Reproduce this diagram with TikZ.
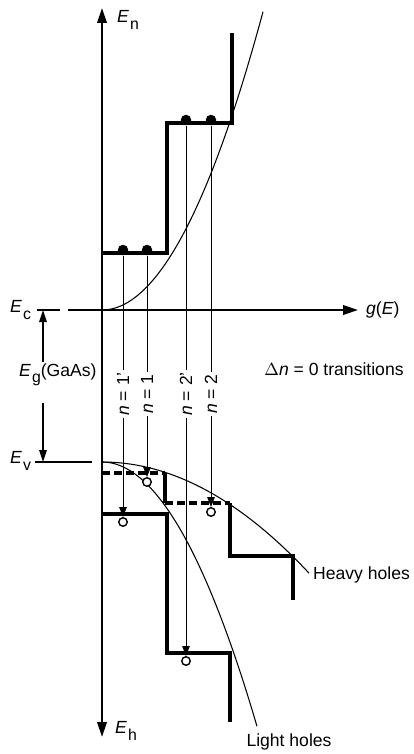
\documentclass[tikz,border=0pt]{standalone}
\usepackage{fontspec}
\setmainfont{Liberation Sans}
\usetikzlibrary{arrows.meta}
\newcommand{\ener}[1]{\textit{E}\kern.6pt\raisebox{-.7ex}{\small #1}}

\begin{document}
\begin{tikzpicture}[x=0.02cm,y=-0.02cm,font=\fontsize{10}{12}\selectfont,
 axis/.style={line width=1.3pt,-{Triangle[length=3mm,width=1.9mm]}},
 gap/.style={line width=.7pt,-{Triangle[length=2.4mm,width=1.5mm]}},
 tick/.style={line width=.7pt},
 lev/.style={line width=2pt},
 hhlev/.style={lev,dash pattern=on 1.6mm off .8mm},
 trans/.style={line width=.55pt,-{Triangle[length=2mm,width=1.5mm]}},
 dos/.style={line width=.6pt},
 elec/.style={circle,fill,inner sep=0pt,minimum size=2.1mm},
 hole/.style={circle,draw,fill=white,line width=.8pt,inner sep=0pt,minimum size=1.7mm},
 lab/.style={fill=white,inner sep=1.5pt,rotate=90}]
\useasboundingbox (0,0) rectangle (413,754);
% axes
\coordinate (vtop) at (102,8);
\coordinate (vbot) at (102,737);
\coordinate (gstart) at (68,310);
\coordinate (gend) at (358,310);
\draw[axis,{Triangle[length=3mm,width=1.9mm]}-{Triangle[length=3mm,width=1.9mm]}] (vbot) -- (vtop);
\draw[axis] (gstart) -- (gend);
\node[anchor=west] (En) at (111,20) {\ener{n}};
\node[anchor=west] (Eh) at (109,731) {\ener{h}};
\node[anchor=west] (gE) at (360,310) {\textit{g}(\textit{E})};
% band gap
\coordinate (ctick-l) at (37,310);
\coordinate (ctick-r) at (60,310);
\coordinate (vtick-l) at (35,462);
\coordinate (vtick-r) at (92,462);
\draw[tick] (ctick-l) -- (ctick-r);
\draw[tick] (vtick-l) -- (vtick-r);
\node[anchor=west] (Ec) at (4,310) {\ener{c}};
\node[anchor=west] (Ev) at (4,461) {\ener{v}};
\node[anchor=west,inner sep=1pt] (Eg) at (17,375) {\ener{g}(GaAs)};
\coordinate (eg-top) at (43,362);
\coordinate (eg-bot) at (43,403);
\draw[gap] (eg-top) -- (43,310);
\draw[gap] (eg-bot) -- (43,462);
% density of states
\draw[dos] plot[domain=0:161,samples=50] ({102+\x},{310-0.0115*\x*\x});
\draw[dos] plot[domain=0:155,samples=50] ({102+\x},{462+0.011*\x*\x});
\draw[dos] plot[domain=0:207,samples=50] ({102+\x},{462+0.0026*\x*\x});
% conduction band steps
\draw[lev] (102,253) -- (167,253) -- (167,123) -- (232,123) -- (232,33);
% heavy-hole steps
\draw[hhlev] (102,473) -- (165,473);
\draw[lev] (165,473) -- (165,503);
\draw[hhlev] (165,503) -- (230,503);
\draw[lev] (230,503) -- (230,556) -- (293,556) -- (293,600);
% light-hole steps
\draw[lev] (102,514) -- (167,514) -- (167,653) -- (230,653) -- (230,722);
% electrons and holes
\node[elec] (e1p) at (123,250) {};
\node[elec] (e1) at (147,250) {};
\node[elec] (e2p) at (186,120) {};
\node[elec] (e2) at (211,120) {};
\node[hole] (h1p) at (123,522) {};
\node[hole] (h1) at (147,482) {};
\node[hole] (h2p) at (186,661) {};
\node[hole] (h2) at (211,512) {};
\draw[trans] (e1p) -- (h1p);
\draw[trans] (e1) -- (h1);
\draw[trans] (e2p) -- (h2p);
\draw[trans] (e2) -- (h2);
\node[lab] (n1p) at (123,394) {\textit{n} = 1'};
\node[lab] (n1) at (147,394) {\textit{n} = 1};
\node[lab] (n2p) at (186,394) {\textit{n} = 2'};
\node[lab] (n2) at (211,394) {\textit{n} = 2};
% labels
\node (dn) at (334,369) {$\Delta$\textit{n} = 0 transitions};
\node[anchor=east,inner sep=1pt] (heavy) at (412,575) {Heavy holes};
\node (light) at (289,742) {Light holes};
\end{tikzpicture}
\end{document}
